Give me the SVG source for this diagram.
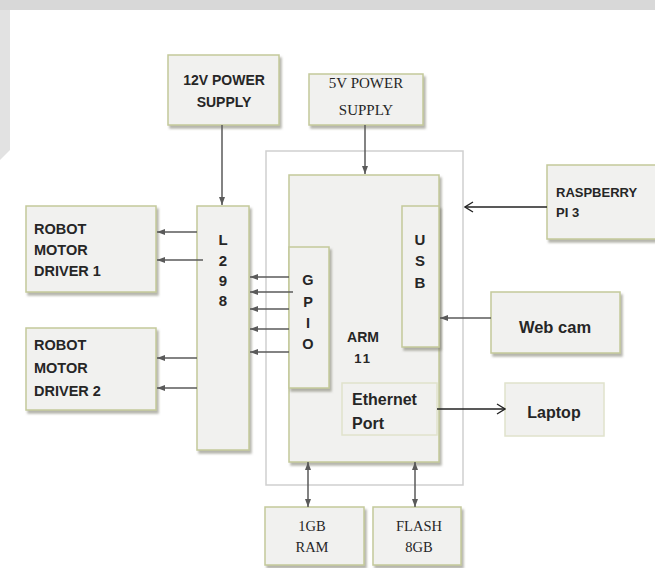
<svg xmlns="http://www.w3.org/2000/svg" width="655" height="568" viewBox="0 0 655 568">
<defs>
<filter id="sh" x="-10%" y="-10%" width="130%" height="130%">
<feDropShadow dx="2" dy="3" stdDeviation="1.2" flood-color="#7a7a6a" flood-opacity="0.55"/>
</filter>
<marker id="ah" viewBox="0 0 8 6" refX="8" refY="3" markerWidth="8" markerHeight="6" markerUnits="userSpaceOnUse" orient="auto-start-reverse">
<path d="M0,0 L8,3 L0,6 Z" fill="#5a5a5a"/>
</marker>
<marker id="av" viewBox="0 0 10 12" refX="9" refY="6" markerWidth="10" markerHeight="12" markerUnits="userSpaceOnUse" orient="auto">
<path d="M1,1 L9,6 L1,11" fill="none" stroke="#222" stroke-width="1.3"/>
</marker>
<style>
.box{fill:#f1f1ef;stroke:#c3c99a;stroke-width:1.5;filter:url(#sh)}
.flat{fill:#f1f1ef;stroke:#e0e2cc;stroke-width:1.5}
.outer{fill:none;stroke:#cfcfcf;stroke-width:1.5}
.c{fill:none;stroke:#5a5a5a;stroke-width:1.5;marker-end:url(#ah)}
.cd{fill:none;stroke:#5a5a5a;stroke-width:1.5;marker-end:url(#ah);marker-start:url(#ah)}
.cb{fill:none;stroke:#222;stroke-width:1.3;marker-end:url(#av)}
.s{font-family:"Liberation Sans",Arial,sans-serif;font-weight:bold;fill:#262626}
.r{font-family:"Liberation Serif","Times New Roman",serif;fill:#262626}
.m{text-anchor:middle}
</style>
</defs>
<rect width="655" height="568" fill="#fff"/>
<rect x="0" y="0" width="655" height="10" fill="#d8d8d8"/>
<polygon points="0,10 10,10 10,150 0,160" fill="#e2e2e2"/>

<rect class="outer" x="266" y="151" width="197" height="334"/>

<g id="psu12">
<rect class="box" x="168" y="55" width="111" height="70"/>
<text class="s m" x="224" y="85" font-size="14">12V POWER</text>
<text class="s m" x="224" y="107" font-size="14">SUPPLY</text>
</g>
<g id="psu5">
<rect class="box" x="309" y="74" width="114" height="51"/>
<text class="r m" x="366" y="88" font-size="15">5V POWER</text>
<text class="r m" x="366" y="115" font-size="15">SUPPLY</text>
</g>
<g id="driver1">
<rect class="box" x="26" y="206" width="130" height="86"/>
<text class="s" x="34" y="234" font-size="14.5">ROBOT</text>
<text class="s" x="34" y="255" font-size="14.5">MOTOR</text>
<text class="s" x="34" y="276" font-size="14.5">DRIVER 1</text>
</g>
<g id="driver2">
<rect class="box" x="26" y="328" width="130" height="82"/>
<text class="s" x="34" y="350" font-size="14.5">ROBOT</text>
<text class="s" x="34" y="373" font-size="14.5">MOTOR</text>
<text class="s" x="34" y="396" font-size="14.5">DRIVER 2</text>
</g>
<g id="l298">
<rect class="box" x="197" y="206" width="52" height="244"/>
<text class="s m" x="223" y="245" font-size="15">L</text>
<text class="s m" x="223" y="266" font-size="15">2</text>
<text class="s m" x="223" y="286" font-size="15">9</text>
<text class="s m" x="223" y="306" font-size="15">8</text>
</g>
<g id="arm">
<rect class="box" x="289" y="175" width="150" height="287"/>
<text class="s m" x="363" y="342" font-size="14">ARM</text>
<text class="s m" x="363" y="363" font-size="13" letter-spacing="2">11</text>
</g>
<g id="gpio">
<rect class="box" x="289" y="247" width="40" height="141"/>
<text class="s m" x="308" y="285" font-size="14.5">G</text>
<text class="s m" x="308" y="307" font-size="14.5">P</text>
<text class="s m" x="308" y="328" font-size="14.5">I</text>
<text class="s m" x="308" y="349" font-size="14.5">O</text>
</g>
<g id="usb">
<rect class="box" x="402" y="206" width="37" height="141"/>
<text class="s m" x="420" y="245" font-size="15">U</text>
<text class="s m" x="420" y="266" font-size="15">S</text>
<text class="s m" x="420" y="288" font-size="15">B</text>
</g>
<g id="ethernet">
<rect class="flat" x="342" y="383" width="95" height="52"/>
<text class="s" x="352" y="405" font-size="16">Ethernet</text>
<text class="s" x="352" y="429" font-size="16">Port</text>
</g>
<g id="rpi">
<rect class="box" x="547" y="165" width="112" height="74"/>
<text class="s" x="556" y="197" font-size="13">RASPBERRY</text>
<text class="s" x="556" y="217" font-size="13">PI 3</text>
</g>
<g id="webcam">
<rect class="box" x="491" y="292" width="129" height="61"/>
<text class="s m" x="555" y="333" font-size="16.5">Web cam</text>
</g>
<g id="laptop">
<rect class="flat" x="505" y="383" width="99" height="53"/>
<text class="s m" x="554" y="418" font-size="16">Laptop</text>
</g>
<g id="ram">
<rect class="box" x="265" y="507" width="99" height="58"/>
<text class="r m" x="312" y="531" font-size="14.5">1GB</text>
<text class="r m" x="312" y="552" font-size="14.5">RAM</text>
</g>
<g id="flash">
<rect class="box" x="373" y="507" width="88" height="58"/>
<text class="r m" x="419" y="531" font-size="14.5">FLASH</text>
<text class="r m" x="419" y="552" font-size="14.5">8GB</text>
</g>

<g id="connectors">
<line class="c" x1="222" y1="125" x2="222" y2="205"/>
<line class="c" x1="365" y1="125" x2="365" y2="174"/>
<line class="c" x1="197" y1="232" x2="157" y2="232"/>
<line class="c" x1="203" y1="260" x2="157" y2="260"/>
<line class="c" x1="197" y1="358" x2="157" y2="358"/>
<line class="c" x1="197" y1="388" x2="157" y2="388"/>
<line class="c" x1="289" y1="277" x2="250" y2="277"/>
<line class="c" x1="293" y1="292" x2="250" y2="292"/>
<line class="c" x1="289" y1="309" x2="250" y2="309"/>
<line class="c" x1="289" y1="329" x2="250" y2="329"/>
<line class="c" x1="289" y1="352" x2="250" y2="352"/>
<line class="c" x1="491" y1="318" x2="440" y2="318"/>
<line class="cb" x1="547" y1="207" x2="465" y2="207"/>
<line class="cb" x1="437" y1="409" x2="505" y2="409"/>
<line class="cd" x1="308" y1="462" x2="308" y2="507"/>
<line class="cd" x1="415" y1="462" x2="415" y2="507"/>
</g>
</svg>
